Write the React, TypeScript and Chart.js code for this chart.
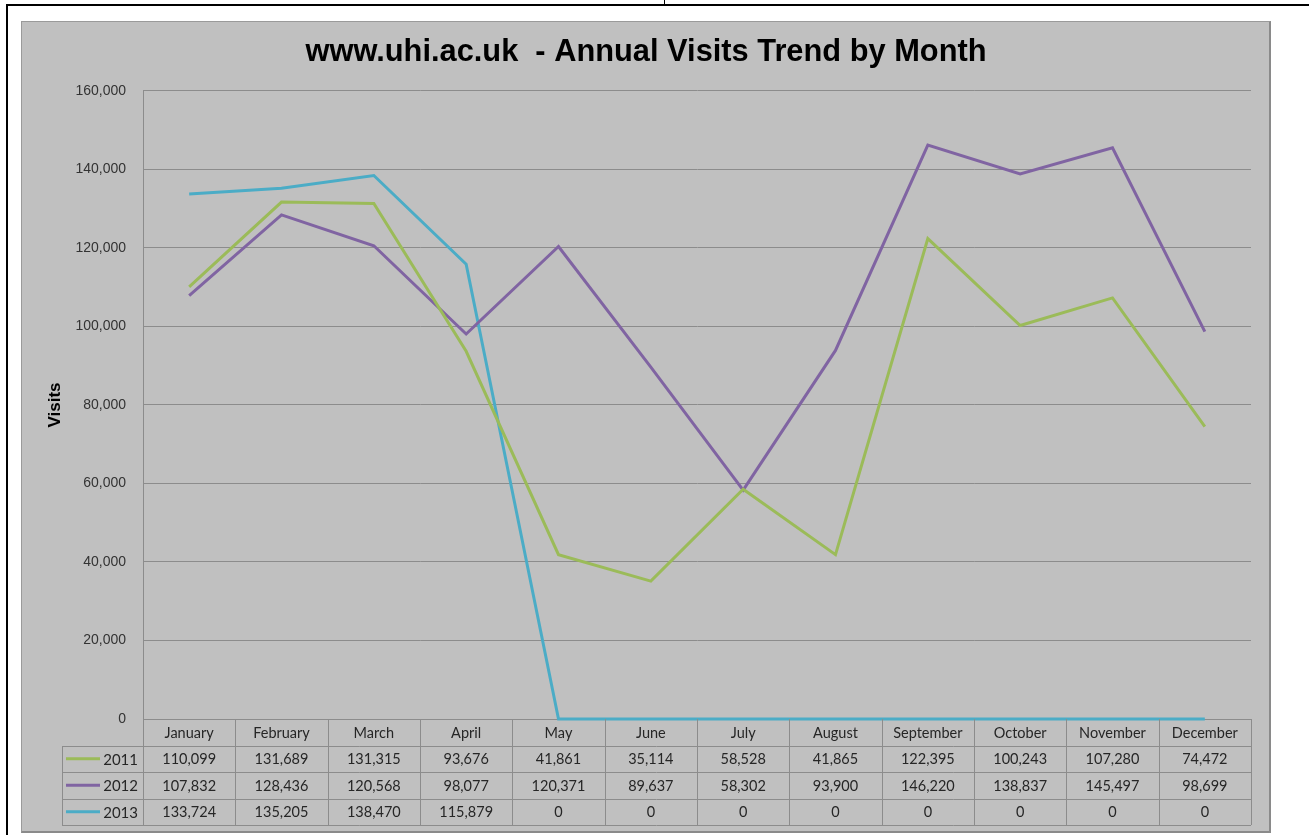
import React, { useEffect, useRef } from "react";
import { Chart, registerables } from "chart.js";

Chart.register(...registerables);

const months = [
  "January", "February", "March", "April", "May", "June",
  "July", "August", "September", "October", "November", "December",
];
const visits2011 = [110099, 131689, 131315, 93676, 41861, 35114, 58528, 41865, 122395, 100243, 107280, 74472];
const visits2012 = [107832, 128436, 120568, 98077, 120371, 89637, 58302, 93900, 146220, 138837, 145497, 98699];
const visits2013 = [133724, 135205, 138470, 115879, 0, 0, 0, 0, 0, 0, 0, 0];
const seriesNames = ["2011", "2012", "2013"];
const seriesColors = ["#9bbb59", "#8064a2", "#4bacc6"];
const titleText = "www.uhi.ac.uk  - Annual Visits Trend by Month";
const yTitle = "Visits";
const yMin = 0;
const yMax = 160000;
const yStep = 20000;

const fmt = (v: number) => v.toLocaleString("en-US");

const GRID = "#8c8c8c";
const ROW_H = 26.5;
const LEGEND_LEFT = 41;

const tablePlugin = {
  id: "dataTable",
  afterDraw(chart: any) {
    const { ctx, chartArea } = chart;
    const x = chart.scales.x;
    const n = months.length;
    const colW = (chartArea.right - chartArea.left) / n;
    const top = chartArea.bottom;
    const rows = [visits2011, visits2012, visits2013];
    const bottom = top + ROW_H * (rows.length + 1);
    ctx.save();
    ctx.strokeStyle = GRID;
    ctx.lineWidth = 1;
    for (let i = 0; i <= n; i++) {
      const px = Math.round(chartArea.left + i * colW) + 0.5;
      ctx.beginPath();
      ctx.moveTo(px, top);
      ctx.lineTo(px, bottom);
      ctx.stroke();
    }
    for (let r = 1; r <= rows.length + 1; r++) {
      const py = Math.round(top + r * ROW_H) + 0.5;
      ctx.beginPath();
      ctx.moveTo(LEGEND_LEFT, py);
      ctx.lineTo(chartArea.right, py);
      ctx.stroke();
    }
    ctx.beginPath();
    ctx.moveTo(LEGEND_LEFT + 0.5, Math.round(top + ROW_H));
    ctx.lineTo(LEGEND_LEFT + 0.5, Math.round(bottom) + 0.5);
    ctx.stroke();

    ctx.fillStyle = "#262626";
    ctx.font = "14.5px Lato, 'Noto Sans', sans-serif";
    ctx.textAlign = "center";
    ctx.textBaseline = "middle";
    for (let i = 0; i < n; i++) {
      const cx = x.getPixelForValue(i);
      ctx.fillText(months[i], cx, top + ROW_H / 2 + 1);
      rows.forEach((vals, r) => {
        ctx.fillText(fmt(vals[i]), cx, top + ROW_H * (r + 1.5) + 1);
      });
    }
    rows.forEach((_, r) => {
      const cy = top + ROW_H * (r + 1.5);
      ctx.strokeStyle = seriesColors[r];
      ctx.lineWidth = 3;
      ctx.beginPath();
      ctx.moveTo(LEGEND_LEFT + 4, cy);
      ctx.lineTo(LEGEND_LEFT + 38, cy);
      ctx.stroke();
      ctx.fillStyle = "#262626";
      ctx.font = "15px Lato, 'Noto Sans', sans-serif";
      ctx.textAlign = "right";
      ctx.fillText(seriesNames[r], chartArea.left - 5, cy + 1);
    });
    ctx.restore();
  },
};

export default function App() {
  const ref = useRef<HTMLCanvasElement | null>(null);
  useEffect(() => {
    if (!ref.current) return;
    const chart = new Chart(ref.current, {
      type: "line",
      data: {
        labels: months,
        datasets: [visits2011, visits2012, visits2013].map((d, i) => ({
          label: seriesNames[i],
          data: d,
          borderColor: seriesColors[i],
          backgroundColor: seriesColors[i],
          borderWidth: 3,
          pointRadius: 0,
          tension: 0,
          clip: false as any,
        })),
      },
      options: {
        animation: false,
        responsive: false,
        devicePixelRatio: 1,
        layout: { padding: { left: 10, top: 0, right: 10, bottom: 114 } },
        plugins: {
          legend: { display: false },
          tooltip: { enabled: false },
          title: {
            display: true,
            text: titleText,
            color: "#000",
            font: { family: "'Liberation Sans', Arial, sans-serif", size: 30.8, weight: "bold", lineHeight: 1.2 },
            padding: { top: 13, bottom: 20 },
          },
        },
        scales: {
          x: {
            type: "category",
            display: false,
            offset: true,
          },
          y: {
            min: yMin,
            max: yMax,
            afterFit(scale: any) {
              scale.width = 112;
            },
            ticks: {
              stepSize: yStep,
              padding: 17,
              color: "#333333",
              font: { family: "'Liberation Sans', Arial, sans-serif", size: 14 },
              callback: (v: any) => fmt(Number(v)),
            },
            grid: { color: GRID, drawTicks: false, lineWidth: 1 },
            border: { display: true, color: GRID },
            title: {
              display: true,
              text: yTitle,
              color: "#000",
              font: { family: "'Liberation Sans', Arial, sans-serif", size: 17, weight: "bold", lineHeight: 1.2 },
              padding: { top: 14, bottom: 0 },
            },
          },
          yRight: {
            type: "linear",
            position: "right",
            display: true,
            afterFit(scale: any) {
              scale.width = 10;
            },
            ticks: { display: false },
            grid: { display: false, drawOnChartArea: false, drawTicks: false },
            border: { display: false },
          },
        },
      },
      plugins: [tablePlugin],
    });
    return () => chart.destroy();
  }, []);

  return (
    <div style={{ position: "fixed", left: 0, top: 0, width: 1309, height: 835, background: "#fff", overflow: "hidden" }}>
      <div style={{ position: "absolute", left: 6, top: 4, right: 0, height: 2, background: "#000" }} />
      <div style={{ position: "absolute", left: 6, top: 4, width: 2, bottom: 0, background: "#000" }} />
      <div style={{ position: "absolute", left: 664, top: 0, width: 1, height: 5, background: "#000" }} />
      <div
        style={{
          position: "absolute",
          left: 21,
          top: 21,
          width: 1250,
          height: 812,
          background: "#c0c0c0",
          borderTop: "1px solid #9a9a9a",
          borderLeft: "1px solid #9a9a9a",
          borderRight: "2px solid #8a8a8a",
          borderBottom: "2px solid #8a8a8a",
          boxSizing: "border-box",
        }}
      >
        <canvas ref={ref} width={1250} height={812} style={{ position: "absolute", left: -1, top: -1, display: "block" }} />
      </div>
    </div>
  );
}
